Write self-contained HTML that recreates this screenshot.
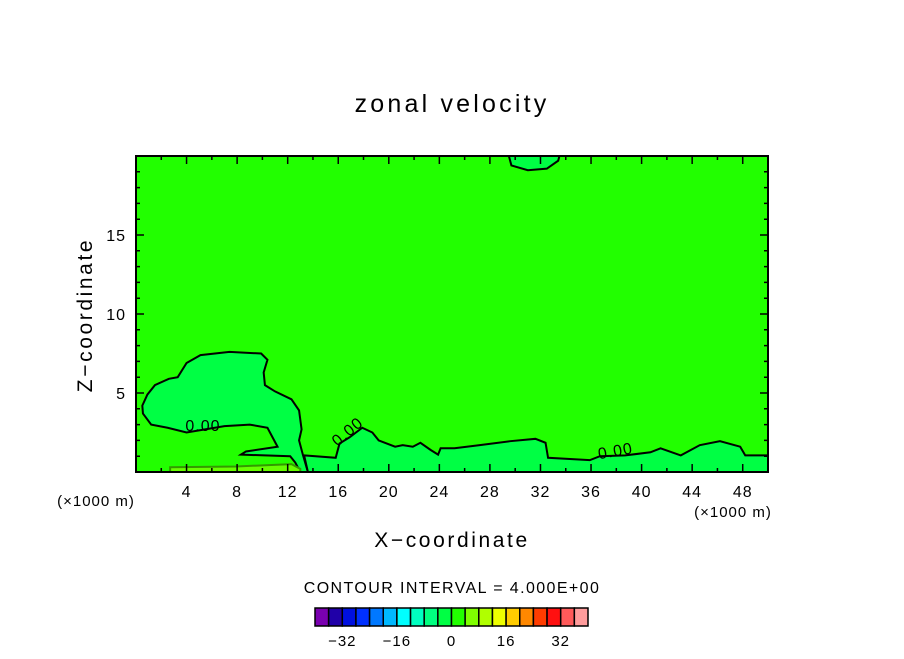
<!DOCTYPE html>
<html><head><meta charset="utf-8"><style>
body{margin:0;background:#fff;}
svg text{font-family:"Liberation Sans",sans-serif;fill:#000;}
</style></head><body>
<svg id="c" width="904" height="654" viewBox="0 0 904 654" xmlns="http://www.w3.org/2000/svg">
<text x="452" y="112" font-size="25" letter-spacing="3.2" text-anchor="middle">zonal velocity</text>
<g id="plot"></g>
<text x="452" y="547" font-size="21" letter-spacing="2.6" text-anchor="middle">X−coordinate</text>
<text transform="translate(92,315) rotate(-90)" font-size="21" letter-spacing="2.6" text-anchor="middle">Z−coordinate</text>
<text x="96" y="506" font-size="15" letter-spacing="1" text-anchor="middle">(×1000 m)</text>
<text x="733" y="517" font-size="15" letter-spacing="1" text-anchor="middle">(×1000 m)</text>
<text x="452" y="593" font-size="16" letter-spacing="1.4" text-anchor="middle">CONTOUR INTERVAL = 4.000E+00</text>
<g id="cbar"></g>
</svg>
<script>
const xTicks=[4,8,12,16,20,24,28,32,36,40,44,48];
const yTicks=[5,10,15];
const cbColors=["#7a00b0","#2000a8","#0010e0","#0030ff","#0078ff","#00b8ff","#00ffff","#00ffc0","#00ff80","#00ff44","#22ff00","#80ff00","#b0ff00","#eeff00","#ffcc00","#ff8800","#ff3c00","#ff1010","#ff5a5a","#ff9c9c"];
const cbLabels=["−32","−16","0","16","32"];
const cbLabelIdx=[2,6,10,14,18];
const blobLeft=[[0.55,3.7],[0.5,4.2],[0.9,4.9],[1.5,5.5],[2.6,5.9],[3.3,6.0],[4.0,6.9],[5.1,7.4],[7.4,7.6],[9.9,7.5],[10.4,7.1],[10.1,6.3],[10.2,5.5],[11.0,5.1],[12.3,4.6],[12.9,3.9],[13.1,2.7],[12.9,2.0],[13.2,1.1],[13.6,0],[13.0,0],[12.6,0.6],[12.2,1.0],[8.3,1.1],[8.7,1.3],[11.2,1.6],[10.4,2.8],[9.0,3.0],[7.0,2.9],[4.0,2.5],[2.5,2.8],[1.2,3.0]];
const blobBottom=[[13.3,1.05],[15.8,0.9],[16.1,1.8],[16.9,2.2],[17.9,2.8],[18.7,2.5],[19.2,2.0],[20.5,1.6],[21.1,1.7],[21.9,1.6],[22.5,1.85],[23.3,1.4],[23.9,1.1],[24.1,1.5],[25.2,1.5],[27.2,1.7],[29.6,1.95],[31.6,2.1],[32.4,1.85],[32.6,0.9],[35.9,0.75],[36.7,1.0],[38.7,1.05],[40.7,1.25],[41.5,1.5],[43.1,1.05],[44.6,1.7],[46.2,1.95],[47.8,1.6],[48.2,1.05],[50,1.05],[50,0],[13.6,0]];
const blobTop=[[29.5,20],[29.7,19.4],[31.0,19.1],[32.5,19.2],[33.4,19.7],[33.5,20]];
const yellowStrip=[[2.7,0],[2.7,0.3],[7.9,0.35],[12.3,0.5],[13.0,0.2],[13.0,0]];
const X0=136,X1=768,Y0=472,Y1=156;
const sx=v=>X0+(v/50)*(X1-X0);
const sy=v=>Y0-(v/20)*(Y0-Y1);
const NS="http://www.w3.org/2000/svg";
const plot=document.getElementById('plot');
function mk(tag,attrs,parent){const e=document.createElementNS(NS,tag);for(const k in attrs)e.setAttribute(k,attrs[k]);parent.appendChild(e);return e;}
const bg=mk('rect',{x:X0,y:Y1,width:X1-X0,height:Y0-Y1,fill:'#22ff00'},plot);


function poly(pts,fill,name,stroke){const p=mk('polygon',{points:pts.map(q=>sx(q[0])+','+sy(q[1])).join(' '),fill:fill,stroke:stroke||'#000','stroke-width':2},plot);

}
poly(blobLeft,'#00ff44','contour-region-left');
poly(blobBottom,'#00ff44','contour-region-bottom');
poly(blobTop,'#00ff44','contour-region-top');
poly(yellowStrip,'#66ff00','contour-region-weak-positive','#339900');
const labs=[[5.3,2.6,0],[17.0,2.3,-40],[38.0,1.0,-10]];
labs.forEach(l=>{const t=mk('text',{x:sx(l[0]),y:sy(l[1]),'font-size':16,'letter-spacing':1,'text-anchor':'middle',transform:`rotate(${l[2]} ${sx(l[0])} ${sy(l[1])})`},plot);t.textContent='0.00';

});
const fr=mk('rect',{x:X0,y:Y1,width:X1-X0,height:Y0-Y1,fill:'none',stroke:'#000','stroke-width':2},plot);


let d='';
for(let v=2;v<50;v+=2){const L=(v%4===0)?8:4;d+=`M${sx(v)},${Y0}v${-L}M${sx(v)},${Y1}v${L}`;}
for(let v=1;v<20;v++){const L=(v%5===0)?8:4;d+=`M${X0},${sy(v)}h${L}M${X1},${sy(v)}h${-L}`;}
const tk=mk('path',{d:d,stroke:'#000','stroke-width':1.5,fill:'none'},plot);


xTicks.forEach(v=>{const t=mk('text',{x:sx(v),y:497,'font-size':16,'letter-spacing':1,'text-anchor':'middle'},plot);t.textContent=v;

});
yTicks.forEach(v=>{const t=mk('text',{x:126,y:sy(v)+6,'font-size':16,'letter-spacing':1,'text-anchor':'end'},plot);t.textContent=v;

});
const cb=document.getElementById('cbar');
const bx=315,bw=273/cbColors.length;
cbColors.forEach((c,i)=>{const r=mk('rect',{x:bx+i*bw,y:608,width:bw,height:18,fill:c,stroke:'#000','stroke-width':1.5},cb);

});
cbLabels.forEach((s,i)=>{const t=mk('text',{x:bx+cbLabelIdx[i]*bw,y:646,'font-size':15,'letter-spacing':1,'text-anchor':'middle'},cb);t.textContent=s;

});
</script>
</body></html>
